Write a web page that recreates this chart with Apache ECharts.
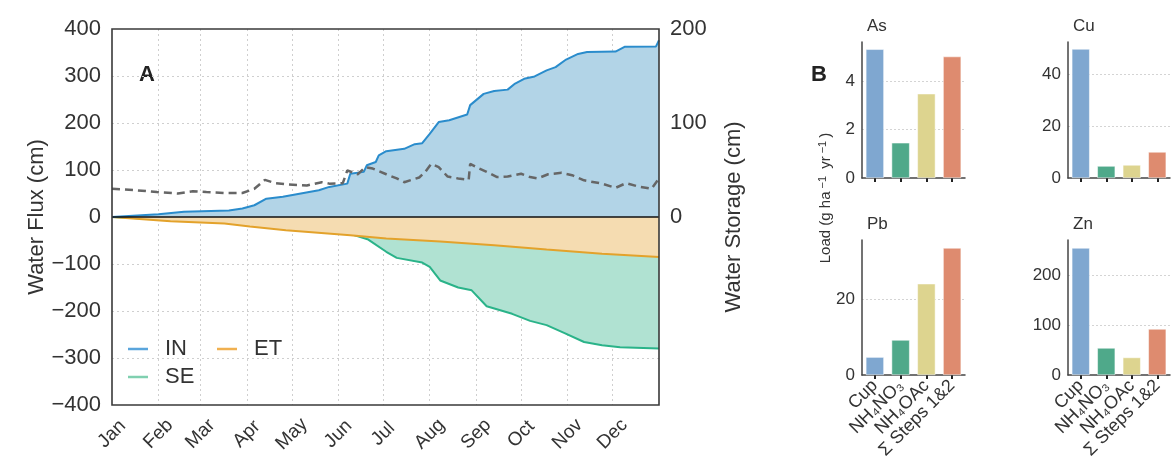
<!DOCTYPE html>
<html><head><meta charset="utf-8">
<script src="https://cdn.jsdelivr.net/npm/echarts@6/dist/echarts.min.js"></script>
<style>html,body{margin:0;padding:0;background:#fff}#c{width:1176px;height:464px}</style>
</head><body><div id="c"></div>
<script>
// ---------- Panel A data ----------
const months = ['Jan','Feb','Mar','Apr','May','Jun','Jul','Aug','Sep','Oct','Nov','Dec'];
const monthStartDays = [0,31,59,90,120,151,181,212,243,273,304,334];
const fluxTicks = [-400,-300,-200,-100,0,100,200,300,400];
const storageTicks = [0,100,200];

const inDays = [0,31,48,78,87,95,103,114,126,138,145,157,159,168,170,176,178,183,195,202,207,212,218,225,237,239,248,255,264,269,275,282,290,296,303,311,317,336,342,363,365];
const inValues = [0,6,11,14,18,25,39,43,50,57,64,71,92,96,110,117,131,140,145,155,157,177,202,206,218,238,262,268,271,284,294,299,312,319,335,347,351,352,362,363,376];

const etDays = [0,39,75,92,116,159,183,219,255,290,327,365];
const etValues = [0,-9,-14,-20,-28,-39,-46,-52,-60,-69,-78,-85];

const seDays = [0,39,71,99,116,135,157,162,171,183,190,207,212,219,231,240,250,267,279,290,302,315,327,339,365];
const seValues = [0,-6,-9,-11,-20,-25,-30,-39,-48,-74,-87,-97,-106,-135,-150,-156,-190,-206,-221,-230,-247,-266,-273,-277,-280];

const storageDays = [0,16,30,44,54,63,75,87,95,102,109,118,130,140,145,154,157,164,169,174,183,190,195,205,209,213,218,224,231,238,239,245,250,257,264,273,279,284,291,300,307,315,327,336,343,351,360,365];
const storageValues = [30,28.5,26.5,25,27.5,26.5,25.5,25.5,30,39.5,36,34.5,33.5,37,35.5,36,49.5,45.5,53,51.5,45.5,41,37,42,48,56.5,53,43,41,39.5,56.5,51.5,48,42.5,43,46,42.5,41,45.5,47,44.5,39,35.5,31,36,32.5,30,41];

// ---------- Panel B data ----------
const methods = ['Cup','NH₄NO₃','NH₄OAc','Σ Steps 1&2'];
const elements = ['As','Cu','Pb','Zn'];
const asLoad = [5.3,1.45,3.47,5.0];
const cuLoad = [49.6,4.6,5.0,10];
const pbLoad = [4.7,9.2,24,33.4];
const znLoad = [254,54,35,92];
const asTicks = [0,2,4];
const cuTicks = [0,20,40];
const pbTicks = [0,20];
const znTicks = [0,100,200];

// ---------- styling ----------
const FONT = '"Liberation Sans", Arial, sans-serif';
const TXT = '#333';
const GRIDC = '#cfcfcf';
const barColors = ['#7fa7d0','#4fa98a','#ddd48f','#de8b6f'];
const pairs = (xs, ys) => xs.map((x, i) => [x, ys[i]]);
const fmtNum = v => (v < 0 ? '\u2212' + Math.abs(v) : String(v));

const plotA = {left:112, top:29, width:547, height:376};
const bGrids = [
  {left:862, top:42, width:103, height:136},
  {left:1068, top:42, width:102, height:136},
  {left:862, top:240, width:103, height:135},
  {left:1068, top:240, width:102, height:135}
];
const bMax = [5.6, 52.3, 35.5, 270];
const bTicks = [asTicks, cuTicks, pbTicks, znTicks];
const bData = [asLoad, cuLoad, pbLoad, znLoad];

const grids = [Object.assign({}, plotA)].concat(bGrids);

const xAxes = [{
  type:'value', gridIndex:0, min:0, max:365,
  axisLine:{show:false},
  axisTick:{show:false, customValues: monthStartDays.filter(d => d > 0)},
  axisLabel:{customValues: monthStartDays, rotate:45, margin:29, align:'center', verticalAlign:'middle',
    fontSize:19, color:TXT, fontFamily:FONT,
    formatter: v => months[monthStartDays.indexOf(Math.round(v))] || ''},
  splitLine:{show:true, lineStyle:{color:GRIDC, type:[2,3], width:1}}
}];
const yAxes = [{
  type:'value', gridIndex:0, min:-400, max:400, interval:100,
  name:'Water Flux (cm)', nameLocation:'middle', nameGap:64,
  nameTextStyle:{fontSize:22, color:TXT, fontFamily:FONT},
  axisLine:{show:false},
  axisTick:{show:false, customValues: fluxTicks.filter(v => Math.abs(v) < 400)},
  axisLabel:{customValues: fluxTicks, fontSize:22, color:TXT, fontFamily:FONT, margin:11, formatter: fmtNum},
  splitLine:{show:true, lineStyle:{color:GRIDC, type:[2,3], width:1}}
},{
  type:'value', gridIndex:0, position:'right', min:-200, max:200, interval:100,
  name:'Water Storage (cm)', nameLocation:'middle', nameGap:64,
  nameTextStyle:{fontSize:22, color:TXT, fontFamily:FONT},
  axisLine:{show:false}, axisTick:{show:false},
  axisLabel:{customValues: storageTicks, fontSize:22, color:TXT, fontFamily:FONT, margin:11},
  splitLine:{show:false}
}];

const series = [
  {name:'SE', type:'line', xAxisIndex:0, yAxisIndex:0, data:pairs(seDays, seValues), showSymbol:false,
   lineStyle:{color:'#2ab389', width:2}, itemStyle:{color:'#2ab389'}, areaStyle:{color:'#b0e2d2', opacity:1}, z:2},
  {name:'ET', type:'line', xAxisIndex:0, yAxisIndex:0, data:pairs(etDays, etValues), showSymbol:false,
   lineStyle:{color:'#e3a22b', width:2}, itemStyle:{color:'#e3a22b'}, areaStyle:{color:'#f5dcb1', opacity:1}, z:3},
  {name:'IN', type:'line', xAxisIndex:0, yAxisIndex:0, data:pairs(inDays, inValues), showSymbol:false,
   lineStyle:{color:'#2a8ccc', width:2}, itemStyle:{color:'#2a8ccc'}, areaStyle:{color:'#b2d4e7', opacity:1}, z:3,
   markLine:{silent:true, symbol:'none', label:{show:false}, lineStyle:{color:'#111', width:1.5, type:'solid'}, data:[{yAxis:0}]}},
  {name:'Storage', type:'line', xAxisIndex:0, yAxisIndex:1, data:pairs(storageDays, storageValues), showSymbol:false,
   lineStyle:{color:'#666', width:2.5, type:[8,5]}, z:5}
];

const titles = [];
for (let k = 0; k < 4; k++) {
  const g = bGrids[k];
  const bottomRow = k >= 2;
  xAxes.push({
    type:'category', gridIndex:k+1, data:methods,
    axisLine:{show:true, lineStyle:{color:'#444', width:1.5}},
    axisTick:{show:true, alignWithLabel:true, length:4, lineStyle:{color:'#222', width:2}},
    axisLabel:{show:bottomRow, rotate:45, fontSize:18, color:TXT, fontFamily:FONT, margin:8, interval:0},
    splitLine:{show:false}
  });
  yAxes.push({
    type:'value', gridIndex:k+1, min:0, max:bMax[k],
    axisLine:{show:true, lineStyle:{color:'#444', width:1.5}},
    axisTick:{show:false, customValues:bTicks[k].filter(v => v > 0)},
    axisLabel:{customValues:bTicks[k], fontSize:17, color:TXT, fontFamily:FONT, margin:7},
    splitLine:{show:true, lineStyle:{color:'#d4d4d4', type:[2,2], width:1}}
  });
  series.push({
    name:elements[k], type:'bar', xAxisIndex:k+1, yAxisIndex:k+2, data:bData[k], barWidth:'70%',
    itemStyle:{color: p => barColors[p.dataIndex], borderColor:'#fff', borderWidth:0.5}
  });
  titles.push({text:elements[k], left:g.left, top:g.top - 29,
    textStyle:{fontSize:17, fontWeight:'normal', color:TXT, fontFamily:FONT}});
}

const option = {
  animation:false,
  backgroundColor:'#fff',
  title: titles,
  grid: grids,
  xAxis: xAxes,
  yAxis: yAxes,
  legend: [
    {data:[{name:'IN', itemStyle:{color:'#5aa5dc'}},{name:'ET', itemStyle:{color:'#f0b050'}}], left:123, top:333, orient:'horizontal',
     icon:'rect', itemWidth:20, itemHeight:2.5, itemGap:30, textStyle:{fontSize:22, color:TXT, fontFamily:FONT, padding:[0,0,0,12]}},
    {data:[{name:'SE', itemStyle:{color:'#80d0b0'}}], left:123, top:361, orient:'horizontal',
     icon:'rect', itemWidth:20, itemHeight:2.5, textStyle:{fontSize:22, color:TXT, fontFamily:FONT, padding:[0,0,0,12]}}
  ],
  graphic: [
    {type:'rect', shape:{x:plotA.left, y:plotA.top, width:plotA.width, height:plotA.height}, z:100, silent:true,
     style:{fill:'none', stroke:'#3a3a3a', lineWidth:1.6}},
    {type:'text', left:139, top:64, style:{text:'A', fontSize:22, fontWeight:'bold', fill:'#222', fontFamily:FONT}},
    {type:'text', left:811, top:64, style:{text:'B', fontSize:22, fontWeight:'bold', fill:'#222', fontFamily:FONT}},
    {type:'text', x:826, y:198, rotation:Math.PI/2,
     style:{text:'Load (g ha{sup|\u22121} yr{sup|\u22121})', fontSize:15, fill:TXT, fontFamily:FONT, align:'center', verticalAlign:'middle',
       rich:{sup:{fontSize:11, fill:TXT, fontFamily:FONT, verticalAlign:'top', padding:[0,3,6,3]}}}}
  ],
  series: series
};
echarts.init(document.getElementById('c')).setOption(option);
</script></body></html>
